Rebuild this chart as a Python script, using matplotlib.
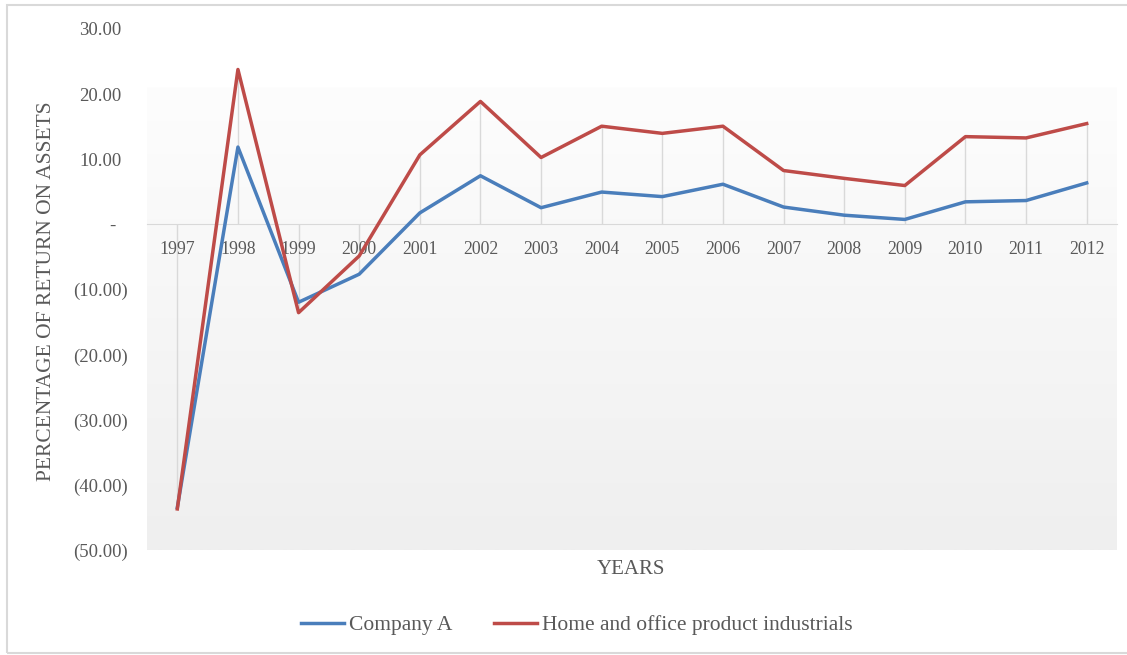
import matplotlib

matplotlib.use("Agg")
import matplotlib.pyplot as plt
import matplotlib.transforms as mtransforms
import numpy as np
from matplotlib.colors import LinearSegmentedColormap
from matplotlib.patches import Rectangle

years = ["1997", "1998", "1999", "2000", "2001", "2002", "2003", "2004",
         "2005", "2006", "2007", "2008", "2009", "2010", "2011", "2012"]
company_a = [-43.5, 11.8, -12.0, -7.7, 1.7, 7.4, 2.5, 4.9,
             4.2, 6.1, 2.6, 1.35, 0.7, 3.4, 3.6, 6.3]
industry = [-43.7, 23.7, -13.6, -4.9, 10.6, 18.8, 10.2, 15.0,
            13.9, 15.0, 8.2, 7.0, 5.9, 13.4, 13.2, 15.4]
y_ticks = [30, 20, 10, 0, -10, -20, -30, -40, -50]

BLUE = "#4a7ebb"
RED = "#be4b48"
TEXT = "#595959"
GRID = "#d9d9d9"
plt.rcParams["font.family"] = ["Liberation Serif", "DejaVu Serif"]


def acct(v):
    # Excel accounting format: negatives in brackets, zero as a dash
    if v == 0:
        return "-"
    if v < 0:
        return f"({abs(v):.2f})"
    return f"{v:.2f}"


fig = plt.figure(figsize=(11.27, 6.55), dpi=100)
ax = fig.add_axes([147 / 1127, 105 / 655, 970 / 1127, 521.6 / 655])
x = np.arange(len(years))
ax.set_xlim(-0.5, len(years) - 0.5)
ax.set_ylim(-50, 30)

# plot-area gradient, white at the top fading to light grey at the bottom
cmap = LinearSegmentedColormap.from_list("bg", ["#fdfdfd", "#efefef"])
grad = np.linspace(0, 1, 256).reshape(-1, 1)
ax.imshow(grad, cmap=cmap, aspect="auto", extent=(-0.5, len(years) - 0.5, -50, 21),
          origin="upper", zorder=0)

# drop lines from each category down/up to the axis
lo = np.minimum(0, np.minimum(company_a, industry))
hi = np.maximum(0, np.maximum(company_a, industry))
ax.vlines(x, lo, hi, color=GRID, lw=1, zorder=1)

ax.plot(x, company_a, color=BLUE, lw=2.5, label="Company A", zorder=3)
ax.plot(x, industry, color=RED, lw=2.5, label="Home and office product industrials", zorder=3)

for s in ["top", "right", "left"]:
    ax.spines[s].set_visible(False)
ax.spines["bottom"].set_position(("data", 0))
ax.spines["bottom"].set_color(GRID)
ax.spines["bottom"].set_zorder(2)
ax.set_xticks(x)
ax.set_xticklabels(years)
ax.tick_params(axis="x", length=0, pad=12, labelsize=12.8, colors=TEXT)

ax.set_yticks(y_ticks)
ax.set_yticklabels([])
ax.tick_params(axis="y", length=0)
ytrans = ax.get_yaxis_transform()
for v in y_ticks:
    lab = acct(v)
    if v > 0:
        dx, ha = -25.5, "right"
    elif v < 0:
        dx, ha = -19.5, "right"
    else:
        dx, ha = -35, "center"
    tr = mtransforms.offset_copy(ytrans, fig=fig, x=dx, y=-2.5, units="dots")
    ax.text(0, v, lab, transform=tr, ha=ha, va="center", fontsize=13.5, color=TEXT)

fig.text(47 / 1127, 1 - 291 / 655, "PERCENTAGE OF RETURN ON ASSETS", rotation=90,
         ha="center", va="center", fontsize=15.5, color=TEXT)
fig.text(631 / 1127, 1 - 569 / 655, "YEARS", ha="center", va="center", fontsize=15, color=TEXT)

leg = fig.legend(loc="center", bbox_to_anchor=(577 / 1127, 1 - 625 / 655), ncol=2,
                 frameon=False, fontsize=15.5, handlelength=2.0, handletextpad=0.23,
                 columnspacing=1.95)
for t in leg.get_texts():
    t.set_color(TEXT)

fig.patches.append(Rectangle((7 / 1127, 2 / 655), 1.1, 648 / 655, transform=fig.transFigure,
                             fill=False, edgecolor=GRID, lw=1.5))

fig.savefig("out.png", dpi=100)
